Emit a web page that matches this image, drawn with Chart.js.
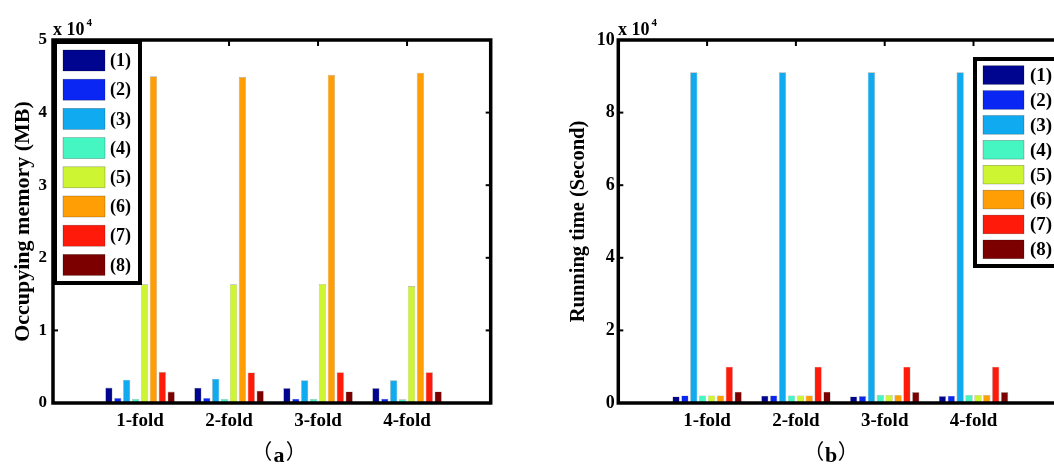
<!DOCTYPE html>
<html><head><meta charset="utf-8">
<script src="https://cdn.jsdelivr.net/npm/chart.js@4.4.0/dist/chart.umd.min.js"></script>
<style>
html,body{margin:0;padding:0;background:#fff;overflow:hidden;width:1054px;height:465px;position:relative;}
canvas{position:absolute;top:0;}
#ca{left:0;}
#cb{left:540px;}
</style></head><body>
<canvas id="ca" width="527" height="465"></canvas>
<canvas id="cb" width="560" height="465"></canvas>
<script>
// ---------------- data ----------------
const categories = ['1-fold', '2-fold', '3-fold', '4-fold'];
const seriesLabels = ['(1)', '(2)', '(3)', '(4)', '(5)', '(6)', '(7)', '(8)'];
const seriesColors = ['#00058f', '#0a26f2', '#10aaf0', '#45f5c2', '#cdf531', '#ff9f05', '#ff1a0a', '#7d0000'];

// (a) Occupying memory (MB)
const memory1 = [2120, 2100, 2050, 2050];
const memory2 = [700, 700, 600, 600];
const memory3 = [3200, 3350, 3150, 3150];
const memory4 = [550, 550, 550, 500];
const memory5 = [16350, 16350, 16400, 16100];
const memory6 = [45000, 44900, 45200, 45500];
const memory7 = [4300, 4200, 4250, 4250];
const memory8 = [1570, 1700, 1600, 1600];

// (b) Running time (Second)
const time1 = [1800, 2000, 1800, 1900];
const time2 = [2100, 2100, 1900, 2000];
const time3 = [91100, 91100, 91100, 91100];
const time4 = [2100, 2100, 2200, 2200];
const time5 = [2100, 2100, 2200, 2200];
const time6 = [2100, 2100, 2200, 2200];
const time7 = [10000, 10000, 10000, 10000];
const time8 = [3100, 3100, 3000, 3000];

const memoryTicks = [0, 1, 2, 3, 4, 5];   // x 10^4
const timeTicks = [0, 2, 4, 6, 8, 10];    // x 10^4
const tickScale = 10000;
const panelNames = ['（a）', '（b）'];

// ---------------- drawing ----------------
const SERIF = '"Liberation Serif", "Times New Roman", serif';

const decorPlugin = {
  id: 'decor',
  afterDatasetsDraw(chart, args, o) {
    const {ctx, chartArea: a, scales: {x, y}} = chart;
    ctx.save();
    ctx.strokeStyle = '#000';
    ctx.fillStyle = '#000';
    const line = (x1, y1, x2, y2) => { ctx.beginPath(); ctx.moveTo(x1, y1); ctx.lineTo(x2, y2); ctx.stroke(); };
    // inner tick marks
    ctx.lineWidth = 2;
    y.ticks.forEach(t => {
      if (t.value <= y.min || t.value >= y.max) return;
      const py = y.getPixelForValue(t.value);
      line(a.left, py, a.left + 5, py);
      line(a.right - 5, py, a.right, py);
    });
    x.ticks.forEach(t => {
      const px = x.getPixelForValue(t.value);
      line(px, a.top, px, a.top + 6);
    });
    // frame
    ctx.lineWidth = 3.5;
    ctx.strokeRect(a.left, a.top, a.right - a.left, a.bottom - a.top);
    // exponent label
    ctx.textBaseline = 'alphabetic';
    ctx.textAlign = 'left';
    ctx.font = 'bold 18px ' + SERIF;
    const base = 'x 10';
    ctx.fillText(base, o.expoX, o.expoY);
    const w = ctx.measureText(base).width;
    ctx.font = 'bold 11px ' + SERIF;
    ctx.fillText('4', o.expoX + w + 2, o.expoY - 9);
    // legend
    const L = o.legend;
    ctx.fillStyle = '#fff';
    ctx.fillRect(L.x, L.y, L.w, L.h);
    ctx.lineWidth = 4;
    ctx.strokeStyle = '#000';
    ctx.strokeRect(L.x, L.y, L.w, L.h);
    ctx.font = 'bold ' + L.font + 'px ' + SERIF;
    ctx.textBaseline = 'middle';
    chart.data.datasets.forEach((ds, i) => {
      const sy = L.sy + i * L.step;
      ctx.fillStyle = ds.backgroundColor;
      ctx.fillRect(L.sx, sy, L.sw, L.sh);
      ctx.lineWidth = 0.6;
      ctx.strokeStyle = 'rgba(0,0,0,0.35)';
      ctx.strokeRect(L.sx, sy, L.sw, L.sh);
      ctx.fillStyle = '#000';
      ctx.fillText(ds.label, L.tx, sy + L.sh / 2 + 1);
    });
    // panel label "（a）": full-width parentheses spaced around a bold serif letter
    const name = o.panel;
    const open = name.charAt(0), letter = name.slice(1, -1), close = name.charAt(name.length - 1);
    ctx.fillStyle = '#000';
    ctx.textBaseline = 'alphabetic';
    ctx.font = 'bold 22px ' + SERIF;
    ctx.textAlign = 'center';
    ctx.fillText(letter, o.panelX, o.panelY);
    ctx.font = '21px "Noto Sans CJK SC", ' + SERIF;
    const wOpen = ctx.measureText(open).width;
    ctx.textAlign = 'left';
    ctx.fillText(open, o.panelX - 10 - wOpen * 0.85, o.panelY - 3);
    ctx.fillText(close, o.panelX + 10 - wOpen * 0.15, o.panelY - 3);
    ctx.restore();
  }
};

function makeChart(canvasId, seriesValues, yTicks, cfg) {
  const datasets = seriesValues.map((vals, i) => ({
    label: seriesLabels[i],
    data: vals.map((v, k) => ({x: k + 1, y: v})),
    backgroundColor: seriesColors[i],
    borderColor: 'rgba(0,0,0,0.35)',
    borderWidth: 0.6,
    categoryPercentage: 0.8,
    barPercentage: 0.82
  }));
  return new Chart(document.getElementById(canvasId), {
    type: 'bar',
    data: {datasets},
    options: {
      responsive: false,
      animation: false,
      devicePixelRatio: 1,
      layout: {padding: {top: 40, right: cfg.padRight, bottom: 0, left: 0}},
      plugins: {
        legend: {display: false},
        tooltip: {enabled: false},
        decor: cfg.decor
      },
      scales: {
        x: {
          type: 'linear',
          min: cfg.xMin,
          max: cfg.xMax,
          offset: false,
          grid: {display: false, drawTicks: false},
          border: {display: false},
          afterBuildTicks: s => { s.ticks = categories.map((c, i) => ({value: i + 1})); },
          afterFit: s => { s.height = 62; },
          ticks: {
            autoSkip: false, maxRotation: 0, padding: 7, color: '#000',
            font: {family: SERIF, weight: 'bold', size: 19},
            callback: v => categories[Math.round(v) - 1] ?? ''
          }
        },
        y: {
          min: 0,
          max: yTicks[yTicks.length - 1] * tickScale,
          grid: {display: false, drawTicks: false},
          border: {display: false},
          afterBuildTicks: s => { s.ticks = yTicks.map(v => ({value: v * tickScale})); },
          afterFit: s => { s.width = cfg.leftW; },
          ticks: {
            padding: cfg.yPad, color: '#000',
            font: {family: SERIF, weight: 'bold', size: cfg.yTickSize},
            callback: v => String(v / tickScale)
          },
          title: {
            display: true, text: cfg.yTitle, color: '#000',
            font: {family: SERIF, weight: 'bold', size: cfg.yTitleSize},
            padding: {top: cfg.titlePad, bottom: 0}
          }
        }
      }
    },
    plugins: [decorPlugin]
  });
}

makeChart('ca',
  [memory1, memory2, memory3, memory4, memory5, memory6, memory7, memory8],
  memoryTicks,
  {
    padRight: 36.3, xMin: 0.022, xMax: 4.94, leftW: 53, yPad: 6, yTickSize: 17,
    yTitle: 'Occupying memory (MB)', yTitleSize: 22, titlePad: 10,
    decor: {
      expoX: 53, expoY: 35, panel: panelNames[0], panelX: 279, panelY: 462,
      legend: {x: 55, y: 42, w: 85, h: 241, sx: 63, sw: 42, sh: 21, sy: 50, step: 29.2, tx: 110, font: 18}
    }
  });

makeChart('cb',
  [time1, time2, time3, time4, time5, time6, time7, time8],
  timeTicks,
  {
    padRight: 37.7, xMin: 0, xMax: 5, leftW: 78.3, yPad: 3.5, yTickSize: 18,
    yTitle: 'Running time (Second)', yTitleSize: 20.5, titlePad: 26,
    decor: {
      expoX: 78, expoY: 35, panel: panelNames[1], panelX: 291, panelY: 462,
      legend: {x: 435, y: 59, w: 90, h: 207, sx: 443, sw: 41, sh: 18.7, sy: 65.7, step: 24.9, tx: 490, font: 19}
    }
  });
</script>
</body></html>
